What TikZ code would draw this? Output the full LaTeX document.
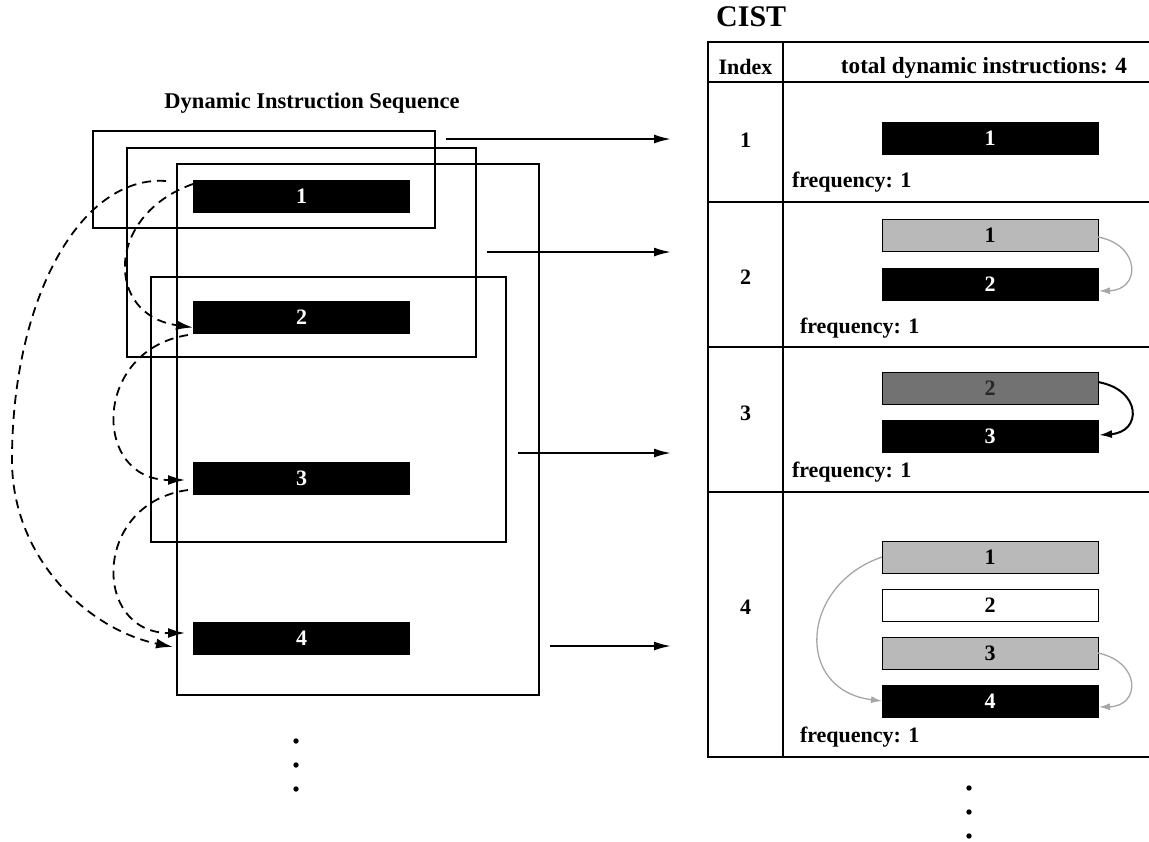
\documentclass[tikz,border=0pt]{standalone}
\usepackage{fontspec}
\setmainfont{Liberation Serif}
\usetikzlibrary{arrows.meta,calc}

\definecolor{lightbar}{HTML}{B9B9B9}
\definecolor{darkbar}{HTML}{727272}
\definecolor{linkgray}{HTML}{A6A6A6}

\newcommand\lblfont{\fontsize{22}{24}\selectfont\bfseries}
\newcommand\digfont{\fontsize{22}{24}\selectfont\bfseries}

\begin{document}
\begin{tikzpicture}[x=1pt,y=-1pt,
  frame/.style={draw, line width=2pt, inner sep=0pt, outer sep=0pt, anchor=north west},
  seqbar/.style={fill=black, text=white, inner sep=0pt, outer sep=0pt,
    minimum width=217pt, minimum height=33pt, font=\digfont},
  cbar/.style={draw=black, line width=1pt, inner sep=0pt, outer sep=0pt,
    minimum width=216pt, minimum height=32pt, font=\digfont},
  blackbar/.style={cbar, fill=black, text=white},
  lightgraybar/.style={cbar, fill=lightbar, text=black},
  darkgraybar/.style={cbar, fill=darkbar, text=black!85},
  whitebar/.style={cbar, fill=white, text=black},
  label/.style={inner sep=0pt, outer sep=0pt, font=\lblfont},
  feed/.style={line width=2pt, -{Latex[length=17pt,width=9pt]}},
  dep/.style={line width=1.8pt, dash pattern=on 9pt off 6pt, -{Latex[length=17pt,width=10pt]}},
  reuse/.style={linkgray, line width=1.3pt, -{Latex[length=11pt,width=7pt]}},
  hotreuse/.style={black, line width=2pt, -{Latex[length=13pt,width=8pt]}},
  tline/.style={line width=2pt},
  dot/.style={fill=black, draw=none}
]
\useasboundingbox (0,0) rectangle (1149,841);

% ---------- dynamic instruction sequence ----------
\node[label, anchor=base, font=\fontsize{22.5}{25}\selectfont\bfseries] (seqtitle) at (312,108) {Dynamic Instruction Sequence};

\node[frame, minimum width=342pt, minimum height=97pt]  (winA) at (93,131) {};
\node[frame, minimum width=349pt, minimum height=209pt] (winB) at (127,148) {};
\node[frame, minimum width=362pt, minimum height=531pt] (winC) at (177,164) {};
\node[frame, minimum width=355pt, minimum height=265pt] (winD) at (151,277) {};

\node[seqbar] (lb1) at (301.5,196.5) {1};
\node[seqbar] (lb2) at (301.5,317.5) {2};
\node[seqbar] (lb3) at (301.5,478.5) {3};
\node[seqbar] (lb4) at (301.5,638.5) {4};

% dependences between dynamic instructions
\draw[dep] ($(lb1.north west)+(-27,1)$) .. controls (80,175) and (12,300) .. (12,460)
  .. controls (12,560) and (90,630) .. ($(lb4.west)+(-20,8.5)$);
\draw[dep] ($(lb1.north west)+(0,4)$) .. controls (105,215) and (105,315) .. ($(lb2.west)+(0,10)$);
\draw[dep] ($(lb2.south west)+(-5,1)$) .. controls (92,350) and (92,480) .. ($(lb3.west)+(-8,1.5)$);
\draw[dep] ($(lb3.west)+(-5,11.5)$) .. controls (92,503) and (92,633) .. ($(lb4.west)+(-8,-5.5)$);

% windows feeding the table
\coordinate (out1) at (446,139);  \coordinate (in1) at (671,139);
\coordinate (out2) at (487,252);  \coordinate (in2) at (671,252);
\coordinate (out3) at (518,453);  \coordinate (in3) at (671,453);
\coordinate (out4) at (550,646);  \coordinate (in4) at (671,646);
\draw[feed] (out1) -- (in1);
\draw[feed] (out2) -- (in2);
\draw[feed] (out3) -- (in3);
\draw[feed] (out4) -- (in4);

\foreach \yy in {741,765,789} {
  \fill[dot] (296,\yy) circle (2.7pt);
}

% ---------- CIST table ----------
\node[inner sep=0pt, anchor=base west, font=\fontsize{30}{32}\selectfont\bfseries] (cist) at (716,26) {CIST};

\draw[tline] (708,42) -- (1149,42);
\draw[tline] (708,82) -- (1149,82);
\draw[tline] (708,202) -- (1149,202);
\draw[tline] (708,347) -- (1149,347);
\draw[tline] (708,492) -- (1149,492);
\draw[tline] (708,757) -- (1149,757);
\draw[tline] (708,41) -- (708,758);
\draw[tline] (783,41) -- (783,758);

\node[label, anchor=base] (hidx) at (745.5,74) {Index};
\node[label, anchor=base, font=\fontsize{23.2}{25}\selectfont\bfseries] (htot) at (984,73) {total dynamic instructions: 4};

\node[label] (i1) at (745.5,140) {1};
\node[label] (i2) at (745.5,277) {2};
\node[label] (i3) at (745.5,413) {3};
\node[label] (i4) at (745.5,607) {4};

% row 1
\node[blackbar] (r1a) at (990,138) {1};
\node[label, anchor=base west] (f1) at (792,187) {frequency: 1};

% row 2
\node[lightgraybar] (r2a) at (990,235) {1};
\node[blackbar] (r2b) at (990,284) {2};
\node[label, anchor=base west] (f2) at (800,333) {frequency: 1};
\draw[reuse] ($(r2a.east)+(0,2)$) .. controls (1141,245) and (1141,290) .. ($(r2b.east)+(1,7)$);

% row 3
\node[darkgraybar] (r3a) at (990,388) {2};
\node[blackbar] (r3b) at (990,436) {3};
\node[label, anchor=base west] (f3) at (792,477) {frequency: 1};
\draw[hotreuse] ($(r3a.east)+(0,-6)$) .. controls (1142,390) and (1142,432) .. ($(r3b.east)+(1,-1)$);

% row 4
\node[lightgraybar] (r4a) at (990,557) {1};
\node[whitebar] (r4b) at (990,605) {2};
\node[lightgraybar] (r4c) at (990,653) {3};
\node[blackbar] (r4d) at (990,701) {4};
\node[label, anchor=base west] (f4) at (800,742) {frequency: 1};
\draw[reuse] (r4a.west) .. controls (800,585) and (794,690) .. (r4d.west);
\draw[reuse] (r4c.east) .. controls (1141,662) and (1141,706) .. ($(r4d.east)+(1,6)$);

\foreach \yy in {788,812,836} {
  \fill[dot] (969,\yy) circle (2.7pt);
}
\end{tikzpicture}
\end{document}
